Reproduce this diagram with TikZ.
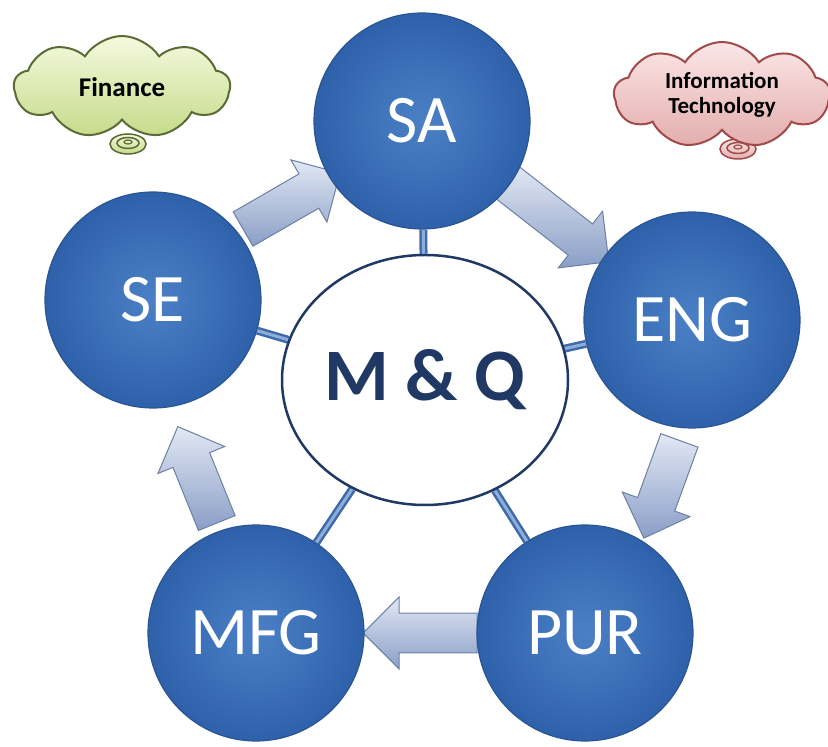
\documentclass[tikz,border=0pt]{standalone}
\usepackage{fontspec}
\setmainfont{Carlito}
\usetikzlibrary{shapes.geometric,shapes.symbols,shapes.arrows,backgrounds}
\definecolor{circin}{HTML}{4B80C6}
\definecolor{circout}{HTML}{2E61AA}
\definecolor{circedge}{HTML}{2A5592}
\definecolor{connout}{HTML}{3F6AA8}
\definecolor{connin}{HTML}{8DAEDB}
\definecolor{arrlight}{HTML}{E2E8F4}
\definecolor{arrdark}{HTML}{8A9EC6}
\definecolor{arredge}{HTML}{6C80A6}
\definecolor{navy}{HTML}{1F3864}
\definecolor{fintop}{HTML}{F5F9DE}
\definecolor{finbot}{HTML}{C6DB8A}
\definecolor{finedge}{HTML}{5B6B35}
\definecolor{ittop}{HTML}{FBE6E6}
\definecolor{itbot}{HTML}{E4ADAD}
\definecolor{itedge}{HTML}{A04A4A}
\tikzset{
  dept/.style={circle, minimum size=216pt, inner sep=0pt, inner color=circin, outer color=circout,
    draw=circedge, line width=1.2pt, text=white, font=\fontsize{68}{68}\selectfont},
  conn/.style={line width=2.5pt, draw=connout, double=connin, double distance=3pt},
  blockarrow/.style={single arrow, minimum width=72pt, single arrow head extend=16pt,
    single arrow head indent=0pt, inner sep=0pt, text height=38pt,
    top color=arrlight, bottom color=arrdark, draw=arredge, line width=1pt},
  cloudbox/.style={cloud, cloud puffs=9, cloud puff arc=115, aspect=2.2, inner sep=0pt,
    line width=2pt, align=center}
}
\begin{document}
\begin{tikzpicture}[x=1pt,y=1pt]
\useasboundingbox (0,0) rectangle (828,747);
% central node
\node[ellipse, minimum width=286pt, minimum height=250pt, inner sep=0pt, fill=white,
  draw=navy, line width=2.5pt, text=navy, font=\bfseries\fontsize{74}{74}\selectfont] (MQ) at (425,367) {M \& Q};
% departments
\node[dept] (SA)  at (422,626) {SA};
\node[dept] (ENG) at (692,427) {ENG};
\node[dept] (SE)  at (153,447) {SE};
\node[dept] (MFG) at (256,114) {MFG};
\node[dept] (PUR) at (585,114) {PUR};
\begin{scope}[on background layer]
  \draw[conn] (SA) -- (MQ);
  \draw[conn] (ENG) -- (MQ);
  \draw[conn] (SE) -- (MQ);
  \draw[conn] (MFG) -- (MQ);
  \draw[conn] (PUR) -- (MQ);
  \node[blockarrow, minimum height=112pt, rotate=30] (a1) at (283,541) {};
  \node[blockarrow, minimum height=132pt, rotate=-38] (a2) at (549,532) {};
  \node[blockarrow, minimum height=104pt, rotate=-110] (a3) at (665,267) {};
  \node[blockarrow, minimum height=114pt, rotate=180] (a4) at (430,114) {};
  \node[blockarrow, minimum height=104pt, rotate=112] (a5) at (201,263) {};
\end{scope}
% clouds
\fill[top color=fintop, bottom color=finbot, draw=finedge, line width=1.5pt]
  (128,603) ellipse (18pt and 10pt);
\draw[finedge, line width=1.5pt] (128,604) ellipse (11pt and 5.5pt);
\draw[finedge, line width=1.2pt] (128,605) ellipse (4pt and 2pt);
\node[cloudbox, minimum width=216pt, minimum height=102pt, top color=fintop, bottom color=finbot,
  draw=finedge, text=black, font=\bfseries\fontsize{27}{27}\selectfont] (FIN) at (122,660) {Finance};
\fill[top color=ittop, bottom color=itbot, draw=itedge, line width=1.5pt]
  (738,598) ellipse (18pt and 10pt);
\draw[itedge, line width=1.5pt] (738,599) ellipse (11pt and 5.5pt);
\draw[itedge, line width=1.2pt] (738,600) ellipse (4pt and 2pt);
\node[cloudbox, minimum width=216pt, minimum height=106pt, top color=ittop, bottom color=itbot,
  draw=itedge, text=black, font=\bfseries\fontsize{23}{25}\selectfont] (IT) at (722,652) {Information\\Technology};
\end{tikzpicture}
\end{document}
